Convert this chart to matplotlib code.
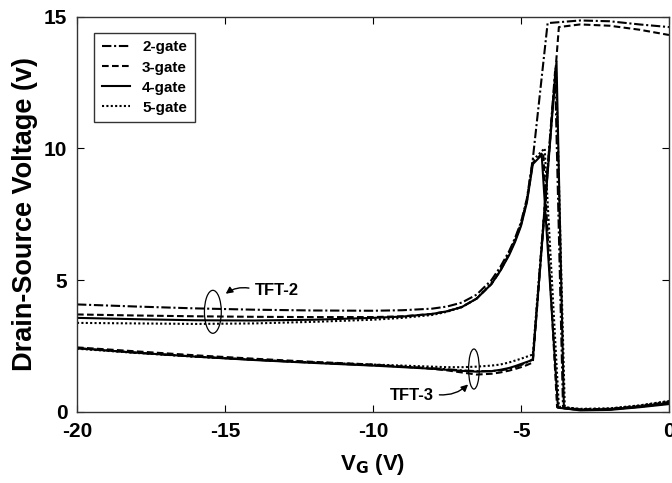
import numpy as np
import matplotlib.pyplot as plt
from matplotlib.patches import Ellipse

plt.rcParams['font.family'] = ['Liberation Sans', 'DejaVu Sans']
plt.rcParams['font.weight'] = 'bold'
plt.rcParams['axes.unicode_minus'] = False

# shared gate-voltage grid for the sub-threshold part
vg_left = [-20, -18, -16, -14, -12, -10, -9, -8, -7.5, -7, -6.5, -6, -5.7, -5.4, -5.2, -5.0, -4.8, -4.6]

# TFT-2 group (upper)
t2_2gate = [4.08, 4.0, 3.93, 3.88, 3.85, 3.84, 3.86, 3.92, 4.0, 4.15, 4.45, 5.0, 5.5, 6.1, 6.6, 7.2, 8.1, 9.6]
t2_3gate = [3.70, 3.66, 3.63, 3.61, 3.60, 3.60, 3.63, 3.72, 3.82, 3.98, 4.3, 4.85, 5.35, 6.0, 6.5, 7.1, 8.0, 9.45]
t2_4gate = [3.57, 3.52, 3.48, 3.47, 3.50, 3.57, 3.62, 3.72, 3.82, 3.98, 4.3, 4.85, 5.35, 5.95, 6.45, 7.05, 7.95, 9.4]
t2_5gate = [3.38, 3.36, 3.34, 3.36, 3.42, 3.50, 3.57, 3.68, 3.80, 3.98, 4.3, 4.9, 5.4, 6.05, 6.55, 7.15, 8.05, 9.55]

# TFT-3 group (lower)
t3_2gate = [2.42, 2.25, 2.1, 1.98, 1.87, 1.77, 1.72, 1.66, 1.62, 1.58, 1.55, 1.55, 1.58, 1.63, 1.7, 1.78, 1.88, 2.0]
t3_3gate = [2.45, 2.3, 2.15, 2.02, 1.9, 1.8, 1.72, 1.64, 1.58, 1.5, 1.42, 1.45, 1.5, 1.57, 1.63, 1.7, 1.78, 1.88]
t3_4gate = [2.42, 2.25, 2.1, 1.97, 1.86, 1.76, 1.7, 1.64, 1.6, 1.56, 1.53, 1.55, 1.6, 1.67, 1.74, 1.82, 1.9, 1.98]
t3_5gate = [2.40, 2.24, 2.1, 1.98, 1.88, 1.80, 1.76, 1.72, 1.70, 1.70, 1.72, 1.76, 1.8, 1.88, 1.95, 2.02, 2.1, 2.18]

# above threshold part (V_G, V_DS)
t2_2gate_r = ([-4.1, -3.0, -2.0, -1.0, 0.0], [14.75, 14.85, 14.82, 14.7, 14.6])
t2_3gate_r = ([-4.25, -3.78, -3.0, -2.0, -1.0, 0.0], [9.85, 0.18, 0.1, 0.12, 0.22, 0.38])
t2_4gate_r = ([-4.3, -3.75, -3.0, -2.0, -1.0, 0.0], [9.75, 0.16, 0.08, 0.1, 0.2, 0.33])
t2_5gate_r = ([-4.2, -3.72, -3.0, -2.0, -1.0, 0.0], [10.0, 0.2, 0.12, 0.14, 0.25, 0.42])

t3_2gate_r = ([-3.85, -3.58, -3.0, -2.0, -1.0, 0.0], [12.9, 0.15, 0.08, 0.1, 0.2, 0.35])
t3_3gate_r = ([-3.72, -3.0, -2.0, -1.0, 0.0], [14.6, 14.7, 14.65, 14.5, 14.3])
t3_4gate_r = ([-3.8, -3.55, -3.0, -2.0, -1.0, 0.0], [13.3, 0.14, 0.06, 0.08, 0.18, 0.3])
t3_5gate_r = ([-3.82, -3.52, -3.0, -2.0, -1.0, 0.0], [13.1, 0.18, 0.1, 0.12, 0.24, 0.4])

labels = ['2-gate', '3-gate', '4-gate', '5-gate']
styles = [(0, (4.5, 1.3, 1, 1.3)), (0, (3.2, 1.6)), '-', (0, (1, 1.1))]

fig = plt.figure(figsize=(6.72, 4.83), dpi=100)
ax = fig.add_axes([0.1146, 0.147, 0.8809, 0.8188])

groups2 = [(t2_2gate, t2_2gate_r), (t2_3gate, t2_3gate_r), (t2_4gate, t2_4gate_r), (t2_5gate, t2_5gate_r)]
groups3 = [(t3_2gate, t3_2gate_r), (t3_3gate, t3_3gate_r), (t3_4gate, t3_4gate_r), (t3_5gate, t3_5gate_r)]

for i in range(4):
    for grp, lab in ((groups2, labels[i]), (groups3, None)):
        yl, (xr, yr) = grp[i]
        xs = vg_left + xr
        ys = yl + yr
        ax.plot(xs, ys, color='black', linestyle=styles[i], linewidth=1.5,
                label=lab)

ax.set_xlim(-20, 0)
ax.set_ylim(0, 15)
ax.set_xticks([-20, -15, -10, -5, 0])
ax.set_yticks([0, 5, 10, 15])
ax.tick_params(direction='in', top=True, right=True, length=5, width=0.8,
               labelsize=15, pad=7)
for lbl in ax.get_xticklabels() + ax.get_yticklabels():
    lbl.set_fontweight('bold')
for s in ax.spines.values():
    s.set_linewidth(1.0)
    s.set_color('#333333')

ax.set_xlabel('V$_\\mathbf{G}$ (V)', fontsize=16, fontweight='bold', labelpad=8)
ax.set_ylabel('Drain-Source Voltage (v)', fontsize=19.5, fontweight='bold', labelpad=4)

leg = ax.legend(loc='upper left', bbox_to_anchor=(0.0287, 0.9588), frameon=True,
                fancybox=False, edgecolor='black', fontsize=11,
                handlelength=1.85, handletextpad=0.8, labelspacing=0.4,
                borderpad=0.5, borderaxespad=0)
leg.get_frame().set_linewidth(1.0)
for t in leg.get_texts():
    t.set_fontweight('bold')

# annotations
ax.add_patch(Ellipse((-15.41, 3.80), 0.57, 1.63, fill=False, color='black', lw=0.9))
ax.add_patch(Ellipse((-6.59, 1.63), 0.36, 1.52, fill=False, color='black', lw=0.9))
ax.annotate('', xy=(-15.05, 4.42), xytext=(-14.1, 4.68),
            arrowprops=dict(arrowstyle='-|>', color='black', lw=1.0,
                            connectionstyle='arc3,rad=0.25', mutation_scale=10))
ax.text(-14.0, 4.6, 'TFT-2', fontsize=12, fontweight='bold', va='center', ha='left')
ax.annotate('', xy=(-6.72, 1.12), xytext=(-7.85, 0.66),
            arrowprops=dict(arrowstyle='-|>', color='black', lw=1.0,
                            connectionstyle='arc3,rad=0.25', mutation_scale=10))
ax.text(-7.95, 0.62, 'TFT-3', fontsize=12, fontweight='bold', va='center', ha='right')

fig.savefig('out.png', dpi=100)
